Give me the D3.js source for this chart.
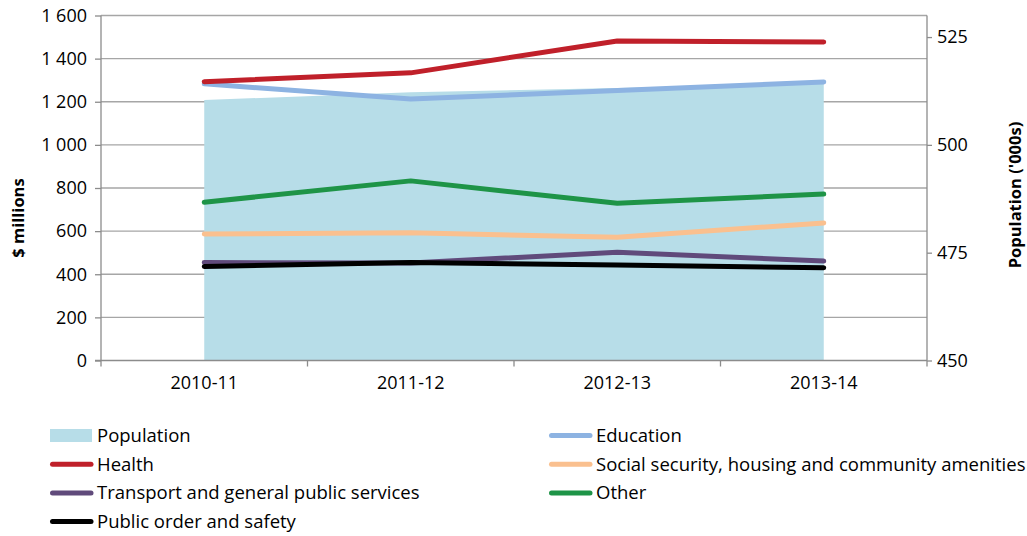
<!DOCTYPE html>
<html>
<head>
<meta charset="utf-8">
<script src="https://cdn.jsdelivr.net/npm/d3@7"></script>
<style>
  html, body { margin: 0; padding: 0; background: #fff; }
  svg { display: block; }
  text { font-family: "Open Sans", Lato, sans-serif; fill: #000; }
</style>
</head>
<body>
<svg id="chart" width="1027" height="536"></svg>
<script>
// Financial years on the category axis
const years = ["2010-11", "2011-12", "2012-13", "2013-14"];

// Population ('000s), right axis
const population = [510.4, 512.2, 513.2, 514.2];

// Expenditure by purpose ($ millions), left axis
const education      = [1283, 1213, 1252, 1292];
const health         = [1293, 1334, 1482, 1477];
const socialSecurity = [587, 592, 572, 638];
const transport      = [454, 452, 502, 461];
const otherSpend     = [734, 833, 729, 772];
const publicOrder    = [436, 454, 443, 430];

const leftTicks  = [0, 200, 400, 600, 800, 1000, 1200, 1400, 1600];
const rightTicks = [450, 475, 500, 525];

const seriesNames = [
  "Education",
  "Health",
  "Social security, housing and community amenities",
  "Transport and general public services",
  "Other",
  "Public order and safety"
];
const seriesValues = [education, health, socialSecurity, transport, otherSpend, publicOrder];
const seriesColors = ["#8db3e2", "#c0202a", "#fac08f", "#604a7b", "#1e9447", "#000000"];

const svg = d3.select("#chart");
const FONT = "'Open Sans', Lato, sans-serif";

const plot = { left: 101, right: 927, top: 15.5, bottom: 360.5 };

const x = d3.scaleBand().domain(years).range([plot.left, plot.right]).padding(0);
const cx = d => x(d) + x.bandwidth() / 2;
const yL = d3.scaleLinear().domain([0, 1600]).range([plot.bottom, plot.top]);
const yR = d3.scaleLinear().domain([450, 530]).range([plot.bottom, plot.top]);

const fmt = d3.formatLocale({ decimal: ".", thousands: " ", grouping: [3], currency: ["$", ""] }).format(",d");

// Horizontal gridlines
svg.append("g").selectAll("line").data(leftTicks.slice(1)).join("line")
  .attr("x1", plot.left).attr("x2", plot.right)
  .attr("y1", d => yL(d)).attr("y2", d => yL(d))
  .attr("stroke", "#a6a6a6").attr("stroke-width", 1.3);

// Population area
const area = d3.area()
  .x(d => cx(d.year))
  .y0(plot.bottom)
  .y1(d => yR(d.value));
svg.append("path")
  .datum(years.map((year, i) => ({ year, value: population[i] })))
  .attr("d", area)
  .attr("fill", "#b7dde8");

function styleTicks(g) {
  g.selectAll(".tick text").style("font-size", "18px").style("font-family", FONT).attr("fill", "#000");
  g.selectAll(".tick line").attr("stroke", "#8c8c8c").attr("stroke-width", 1.3);
}

// Left axis
const gL = svg.append("g").attr("transform", `translate(${plot.left},0)`)
  .call(d3.axisLeft(yL).tickValues(leftTicks).tickSize(6).tickPadding(8).tickFormat(fmt));
gL.select(".domain").attr("stroke", "#8c8c8c").attr("stroke-width", 1.3).attr("d", `M0,${plot.top}V${plot.bottom}`);
styleTicks(gL);

// Right axis
const gR = svg.append("g").attr("transform", `translate(${plot.right},0)`)
  .call(d3.axisRight(yR).tickValues(rightTicks).tickSize(5).tickPadding(5).tickFormat(d3.format("d")));
gR.select(".domain").attr("stroke", "#8c8c8c").attr("stroke-width", 1.3).attr("d", `M0,${plot.top}V${plot.bottom}`);
styleTicks(gR);

// Bottom axis: ticks on category boundaries, labels at category centres
const gB = svg.append("g").attr("transform", `translate(0,${plot.bottom})`)
  .call(d3.axisBottom(x).tickSize(0).tickPadding(16));
gB.select(".domain").attr("stroke", "#8c8c8c").attr("stroke-width", 1.3)
  .attr("d", `M${plot.left - 6},0H${plot.right}`);
styleTicks(gB);
const bounds = years.map(d => x(d)).concat([x(years[years.length - 1]) + x.bandwidth()]);
gB.append("g").selectAll("line").data(bounds).join("line")
  .attr("x1", d => d).attr("x2", d => d).attr("y1", 0).attr("y2", 6)
  .attr("stroke", "#8c8c8c").attr("stroke-width", 1.3);

// Expenditure lines
const line = d3.line().x(d => cx(d.year)).y(d => yL(d.value));
seriesValues.forEach((vals, i) => {
  svg.append("path")
    .datum(years.map((year, j) => ({ year, value: vals[j] })))
    .attr("d", line)
    .attr("fill", "none")
    .attr("stroke", seriesColors[i])
    .attr("stroke-width", 5)
    .attr("stroke-linecap", "round")
    .attr("stroke-linejoin", "round");
});

// Axis titles
svg.append("text")
  .attr("transform", "translate(24,218) rotate(-90)")
  .attr("text-anchor", "middle")
  .style("font-size", "16.5px").style("font-weight", "bold")
  .text("$ millions");
svg.append("text")
  .attr("transform", "translate(1021,195) rotate(-90)")
  .attr("text-anchor", "middle")
  .style("font-size", "16.5px").style("font-weight", "bold")
  .text("Population ('000s)");

// Legend
const legendItems = [
  { name: "Population", type: "area", color: "#b7dde8", col: 0, row: 0 },
  { name: seriesNames[0], type: "line", color: seriesColors[0], col: 1, row: 0 },
  { name: seriesNames[1], type: "line", color: seriesColors[1], col: 0, row: 1 },
  { name: seriesNames[2], type: "line", color: seriesColors[2], col: 1, row: 1 },
  { name: seriesNames[3], type: "line", color: seriesColors[3], col: 0, row: 2 },
  { name: seriesNames[4], type: "line", color: seriesColors[4], col: 1, row: 2 },
  { name: seriesNames[5], type: "line", color: seriesColors[5], col: 0, row: 3 }
];
const colX = [50, 549];
const rowY = r => 435.5 + r * 28.7;
const lg = svg.append("g").selectAll("g").data(legendItems).join("g")
  .attr("transform", d => `translate(${colX[d.col]},${rowY(d.row)})`);
lg.filter(d => d.type === "area").append("rect")
  .attr("x", 0).attr("y", -6.5).attr("width", 42).attr("height", 13)
  .attr("fill", d => d.color);
lg.filter(d => d.type === "line").append("line")
  .attr("x1", 2.5).attr("x2", 41).attr("y1", 0).attr("y2", 0)
  .attr("stroke", d => d.color).attr("stroke-width", 5).attr("stroke-linecap", "round");
lg.append("text")
  .attr("x", 47).attr("y", 0).attr("dy", "0.35em")
  .style("font-size", "18.5px")
  .text(d => d.name);
</script>
</body>
</html>
